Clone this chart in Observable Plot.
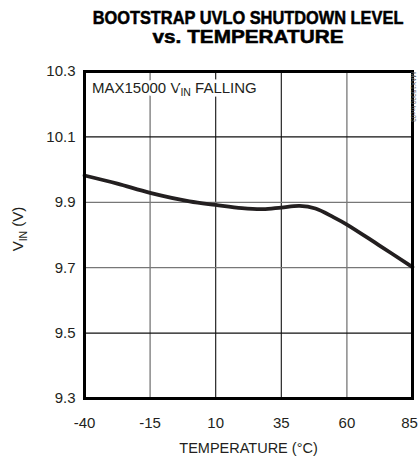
<!DOCTYPE html>
<html><head><meta charset="utf-8">
<script src="https://cdn.jsdelivr.net/npm/d3@7"></script>
<script src="https://cdn.jsdelivr.net/npm/@observablehq/plot@0.6"></script>
<style>
html,body{margin:0;padding:0;background:#fff;}
body{width:419px;height:459px;overflow:hidden;font-family:"Liberation Sans",Arial,sans-serif;color:#231f20;}
svg{display:block;}
</style>
</head><body>
<svg id="title" width="419" height="60"></svg>
<div id="chart"></div>
<script>
const temps = [-40, -27.5, -15, 0, 10, 20, 28, 35, 42, 48, 55, 60, 72, 85];
const vin   = [9.982, 9.957, 9.929, 9.903, 9.892, 9.882, 9.879, 9.884, 9.889, 9.881, 9.854, 9.832, 9.770, 9.702];
const xTicks = [-40, -15, 10, 35, 60, 85];
const yTicks = [9.3, 9.5, 9.7, 9.9, 10.1, 10.3];
const titleLines = ["BOOTSTRAP UVLO SHUTDOWN LEVEL", "vs. TEMPERATURE"];
const xLabel = "TEMPERATURE (°C)";
const annotation = ["MAX15000 V", "IN", " FALLING"];
const yLabel = ["V", "IN", " (V)"];
const watermark = "MAX15000 toc03";

const data = temps.map((t, i) => ({t, v: vin[i]}));
const inner = xTicks.slice(1, -1);
const innerY = yTicks.slice(1, -1);
const font = '"Liberation Sans",Arial,sans-serif';

// title (horizontally condensed via transform)
const tsvg = d3.select("#title");
const tl = [{y: 24, w: 311}, {y: 42.5, w: 191}];
titleLines.forEach((s, i) => {
  const g = tsvg.append("g");
  const t = g.append("text").attr("x", 0).attr("y", 0)
    .attr("text-anchor", "middle").attr("font-family", font)
    .attr("font-weight", "bold").attr("font-size", 17.5).attr("fill", "#000")
    .attr("stroke", "#000").attr("stroke-width", 0.5)
    .text(s);
  const nat = t.node().getComputedTextLength();
  g.attr("transform", `translate(248,${tl[i].y}) scale(${tl[i].w / nat},1)`);
});

const tickStyle = {tickSize: 0, tickPadding: 19, tickFormat: d => String(d), label: null, fontSize: 15};

const chart = Plot.plot({
  width: 419, height: 399,
  marginLeft: 84, marginRight: 7, marginTop: 11, marginBottom: 61,
  style: {fontFamily: font, fontSize: "15px", color: "#231f20", background: "white"},
  x: {domain: [-40, 85], label: null},
  y: {domain: [9.3, 10.3], ticks: yTicks, tickSize: 0, tickPadding: 9, tickFormat: d3.format(".1f"), label: null},
  marks: [
    Plot.ruleX(inner.filter((d, i) => i === 0 || i === 3), {stroke: "#777", strokeWidth: 1.3}),
    Plot.ruleX(inner.filter((d, i) => i === 1 || i === 2), {stroke: "#111", strokeWidth: 1.1}),
    Plot.ruleY(innerY.filter((d, i) => i === 1 || i === 2), {stroke: "#777", strokeWidth: 1.3}),
    Plot.ruleY(innerY.filter((d, i) => i === 0 || i === 3), {stroke: "#111", strokeWidth: 1.1}),
    Plot.axisX(xTicks.slice(0, -1), tickStyle),
    Plot.axisX(xTicks.slice(-1), {...tickStyle, dx: -3}),
    Plot.text([xLabel], {frameAnchor: "bottom", dy: 54, text: d => d, fontSize: 14.5}),
    Plot.line(data, {x: "t", y: "v", curve: "catmull-rom", stroke: "#231f20", strokeWidth: 3.8}),
    Plot.frame({stroke: "#000", strokeWidth: 3})
  ]
});
document.getElementById("chart").appendChild(chart);

const svg = d3.select(chart);
// annotation with subscript
const ann = svg.append("text").attr("x", 92).attr("y", 32.5)
  .attr("text-anchor", "start").attr("font-size", 15).attr("fill", "#231f20")
  .attr("stroke", "white").attr("stroke-width", 7).attr("paint-order", "stroke")
  .attr("stroke-linejoin", "round");
ann.append("tspan").text(annotation[0]);
ann.append("tspan").attr("font-size", 10.5).attr("dy", 3.5).text(annotation[1]);
ann.append("tspan").attr("dy", -3.5).text(annotation[2]);

// y label with subscript
const yl = svg.append("text").attr("transform", "translate(23,169) rotate(-90)")
  .attr("text-anchor", "middle").attr("font-size", 15).attr("fill", "#231f20");
yl.append("tspan").text(yLabel[0]);
yl.append("tspan").attr("font-size", 10.5).attr("dy", 3.5).text(yLabel[1]);
yl.append("tspan").attr("dy", -3.5).text(yLabel[2]);

// vertical watermark
svg.append("text").attr("transform", "translate(411,12) rotate(90)")
  .attr("text-anchor", "start").attr("font-size", 6.5).attr("fill", "#666").text(watermark);
</script>
</body></html>
